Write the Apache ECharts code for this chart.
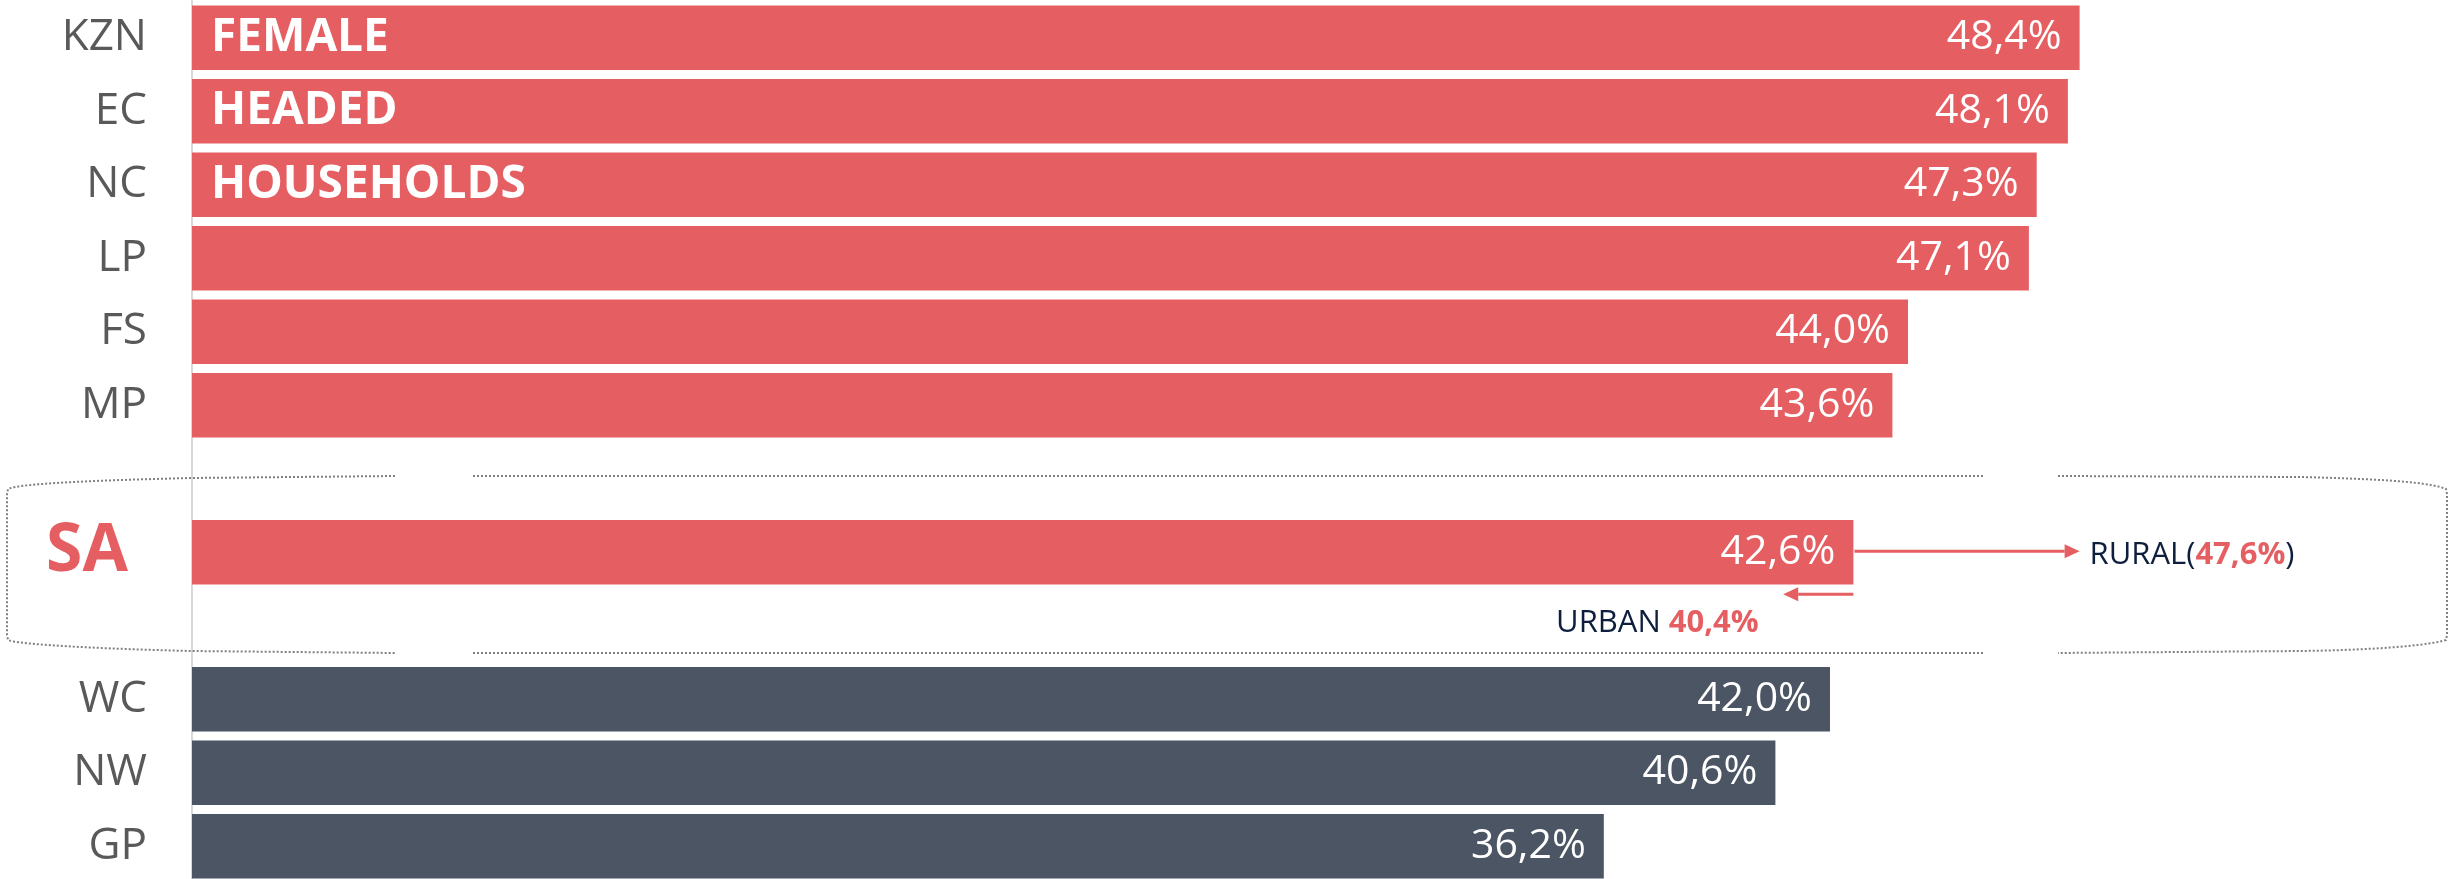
<!DOCTYPE html>
<html>
<head>
<meta charset="utf-8">
<script src="https://cdn.jsdelivr.net/npm/echarts/dist/echarts.min.js"></script>
<style>
  html, body { margin: 0; padding: 0; background: #ffffff; }
  #chart { width: 2453px; height: 879px; }
</style>
</head>
<body>
<div id="chart"></div>
<script>
// ---- data ----
const categories = ['KZN', 'EC', 'NC', 'LP', 'FS', 'MP', '', 'SA', '', 'WC', 'NW', 'GP'];
const values = [48.4, 48.1, 47.3, 47.1, 44.0, 43.6, null, 42.6, null, 42.0, 40.6, 36.2];
const titleWords = ['FEMALE', 'HEADED', 'HOUSEHOLDS'];
const saCategory = 'SA';
const ruralValue = 47.6;
const urbanValue = 40.4;

// ---- styles ----
const RED = '#E55F62';
const DARK = '#4C5564';
const NAVY = '#0E1F3D';
const FONT = '"Open Sans", "Noto Sans", "DejaVu Sans", sans-serif';
const fmt = v => v.toFixed(1).replace('.', ',') + '%';

const saValue = values[categories.indexOf(saCategory)];

const mainData = values.map(v => v == null ? null : {
  value: v,
  itemStyle: { color: v >= saValue ? RED : DARK }
});
const titleData = values.map((v, i) => i < titleWords.length ? { value: v, name: titleWords[i] } : null);

const chart = echarts.init(document.getElementById('chart'), null, { renderer: 'canvas' });

chart.setOption({
  animation: false,
  backgroundColor: '#ffffff',
  grid: { left: 192, top: 1, width: 55 * 39, height: 882, containLabel: false, outerBoundsMode: 'none' },
  xAxis: { type: 'value', min: 0, max: 55, show: false },
  yAxis: {
    type: 'category',
    data: categories,
    inverse: true,
    axisTick: { show: false },
    axisLine: { show: true, lineStyle: { color: '#d9d9d9', width: 2 } },
    splitLine: { show: false },
    axisLabel: {
      fontSize: 44,
      color: '#595959',
      fontFamily: FONT,
      margin: 45,
      formatter: v => v === saCategory ? '{sa|' + v + '}' : v,
      rich: {
        sa: { fontSize: 66, fontWeight: 'bold', color: RED, fontFamily: FONT, padding: [0, 19, 0, 0] }
      }
    }
  },
  series: [
    {
      type: 'bar',
      data: mainData,
      barCategoryGap: '12%',
      barGap: '-100%',
      label: {
        show: true,
        position: 'insideRight',
        distance: 18,
        color: '#ffffff',
        fontSize: 41,
        fontFamily: FONT,
        fontWeight: 'normal',
        formatter: p => fmt(p.value)
      }
    },
    {
      type: 'bar',
      data: titleData,
      barCategoryGap: '12%',
      barGap: '-100%',
      itemStyle: { color: 'rgba(0,0,0,0)' },
      label: {
        show: true,
        position: 'insideLeft',
        distance: 19,
        color: '#ffffff',
        fontSize: 46,
        fontWeight: 'bold',
        fontFamily: FONT,
        formatter: p => p.name
      }
    }
  ]
});

// ---- annotations anchored to the SA bar ----
const saPt = chart.convertToPixel({ xAxisIndex: 0, yAxisIndex: 0 }, [saValue, saCategory]);
const sx = saPt[0], sy = saPt[1];
const ruralTip = chart.convertToPixel({ xAxisIndex: 0 }, 48.4);
const urbanTip = chart.convertToPixel({ xAxisIndex: 0 }, 40.8);

function arrow(x1, x2, y) {
  const dir = x2 > x1 ? 1 : -1;
  const headL = 15, headH = 7;
  return [
    { type: 'line', shape: { x1: x1, y1: y, x2: x2 - dir * headL, y2: y }, style: { stroke: RED, lineWidth: 3 }, z: 10 },
    { type: 'polygon', shape: { points: [[x2, y], [x2 - dir * headL, y - headH], [x2 - dir * headL, y + headH]] }, style: { fill: RED }, z: 10 }
  ];
}

// dotted outline pieces (decoration), built as polylines
function bez(p0, p1, p2, p3, n) {
  const pts = [];
  for (let i = 0; i <= n; i++) {
    const t = i / n, u = 1 - t;
    pts.push([
      u*u*u*p0[0] + 3*u*u*t*p1[0] + 3*u*t*t*p2[0] + t*t*t*p3[0],
      u*u*u*p0[1] + 3*u*u*t*p1[1] + 3*u*t*t*p2[1] + t*t*t*p3[1]
    ]);
  }
  return pts;
}
const leftPart = [].concat(
  [[395, 476], [191, 478]],
  bez([191, 478], [110, 480], [20, 483], [8, 489], 20),
  [[7, 494], [7, 635]],
  bez([8, 640], [20, 645], [110, 649], [191, 651], 20),
  [[395, 653]]
);
const rightPart = [].concat(
  [[2058, 476], [2300, 477]],
  bez([2300, 477], [2380, 479], [2430, 482], [2446, 489], 20),
  [[2447, 494], [2447, 635]],
  bez([2446, 640], [2430, 645], [2380, 650], [2300, 651], 20),
  [[2058, 653]]
);
const dotStyle = { fill: null, stroke: '#808080', lineWidth: 2, lineDash: [2, 2] };

const richN = { fontSize: 31, fill: NAVY, color: NAVY, fontFamily: FONT };
const richR = { fontSize: 31, fill: RED, color: RED, fontWeight: 'bold', fontFamily: FONT };

chart.setOption({
  graphic: [
    { type: 'polyline', shape: { points: leftPart }, style: dotStyle, z: 5 },
    { type: 'polyline', shape: { points: rightPart }, style: dotStyle, z: 5 },
    { type: 'line', shape: { x1: 473, y1: 476, x2: 1984, y2: 476 }, style: dotStyle, z: 5 },
    { type: 'line', shape: { x1: 473, y1: 653, x2: 1984, y2: 653 }, style: dotStyle, z: 5 },
    ...arrow(sx + 1, ruralTip, sy - 1),
    ...arrow(sx, urbanTip, sy + 42),
    {
      type: 'text',
      x: ruralTip + 10,
      y: sy + 3,
      z: 10,
      style: {
        text: '{n|RURAL(}{r|' + fmt(ruralValue) + '}{n|)}',
        fill: NAVY,
        verticalAlign: 'middle',
        align: 'left',
        rich: { n: richN, r: richR }
      }
    },
    {
      type: 'text',
      x: sx - 196,
      y: sy + 71,
      z: 10,
      style: {
        text: '{n|URBAN }{r|' + fmt(urbanValue) + '}',
        fill: NAVY,
        verticalAlign: 'middle',
        align: 'center',
        rich: { n: richN, r: richR }
      }
    }
  ]
});
</script>
</body>
</html>
